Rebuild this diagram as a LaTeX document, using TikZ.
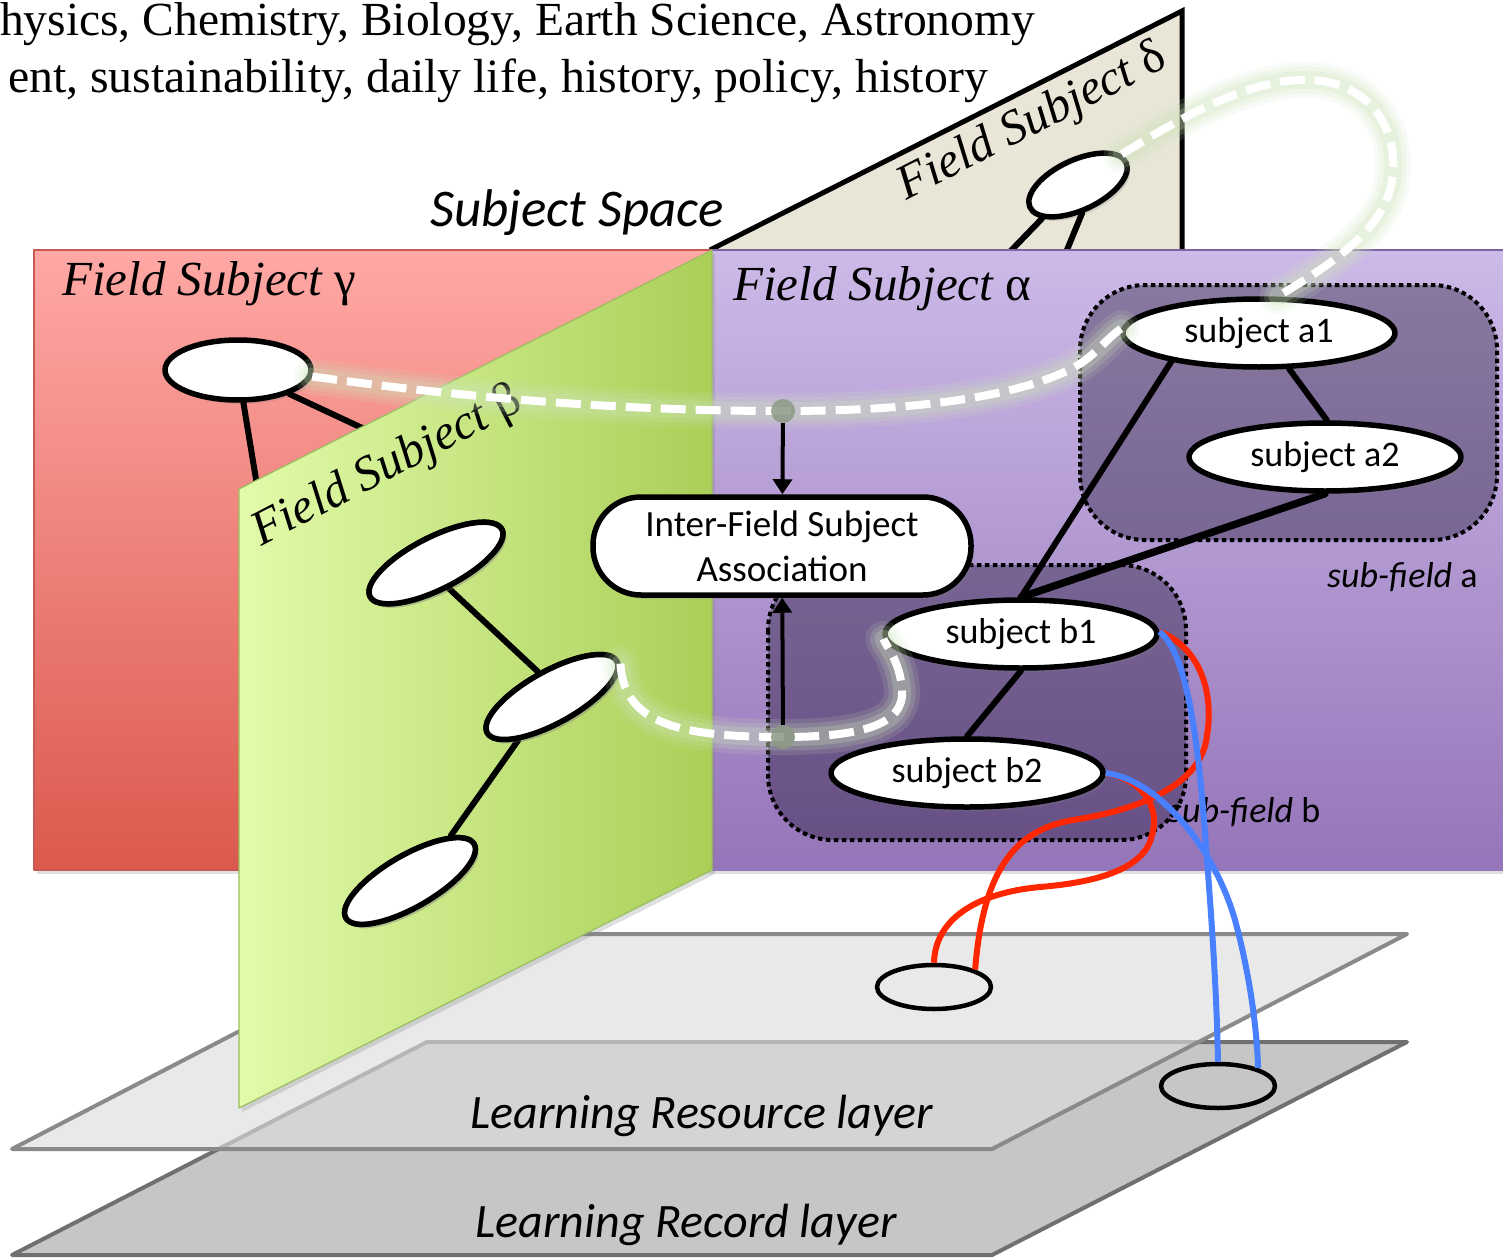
\documentclass[tikz,border=0pt]{standalone}
\usepackage{fontspec}
\setmainfont{Liberation Serif}
\newfontfamily\calibri{Carlito}
\usetikzlibrary{shapes.geometric,arrows.meta,shadows}

\definecolor{redTop}{RGB}{255,168,165}
\definecolor{redBot}{RGB}{219,89,77}
\definecolor{redEdge}{RGB}{200,90,85}
\definecolor{purTop}{RGB}{205,186,232}
\definecolor{purBot}{RGB}{149,117,185}
\definecolor{purEdge}{RGB}{128,100,162}
\definecolor{grnL}{RGB}{226,251,170}
\definecolor{grnR}{RGB}{170,207,88}
\definecolor{grnEdge}{RGB}{155,190,95}
\definecolor{deltaFill}{RGB}{233,230,216}
\definecolor{glowGreen}{RGB}{205,228,185}
\definecolor{linkRed}{RGB}{255,38,0}
\definecolor{linkBlue}{RGB}{72,128,255}
\definecolor{subDark}{RGB}{20,12,40}
\definecolor{dotGrey}{RGB}{140,152,132}
\definecolor{resFill}{RGB}{221,221,221}
\definecolor{resEdge}{RGB}{138,138,138}
\definecolor{recFill}{RGB}{198,198,198}
\definecolor{recEdge}{RGB}{112,112,112}

\begin{document}
\begin{tikzpicture}[x=1pt, y=-1pt, line join=round,
  softshadow/.style={drop shadow={opacity=.25, shadow xshift=3pt, shadow yshift=-4pt}},
  blank/.style={ellipse, draw=black, line width=5.5pt, fill=white, inner sep=0pt, softshadow},
  topic/.style={blank, minimum width=272pt, minimum height=68pt, font=\calibri\fontsize{36}{40}\selectfont},
  betanode/.style={blank, minimum width=148pt, minimum height=52pt},
  hole/.style={ellipse, draw=black, line width=4.5pt, inner sep=0pt, minimum width=114pt, minimum height=44pt},
  link/.style={line width=6pt, line cap=round},
  assoc/.style={line width=4pt, -{Triangle[length=15pt,width=19pt]}},
  subfield/.style={draw=black, line width=4pt, dash pattern=on 4.5pt off 3.5pt, fill=subDark, fill opacity=.36, rounded corners=65pt},
  fieldlabel/.style={font=\itshape\fontsize{49}{52}\selectfont, inner sep=0pt},
  glowlink/.style={draw=white, line width=8pt, dash pattern=on 25pt off 10pt,
    preaction={draw=glowGreen, line width=36pt, opacity=.14, line cap=round, solid},
    preaction={draw=glowGreen, line width=27pt, opacity=.18, line cap=round, solid},
    preaction={draw=glowGreen, line width=18pt, opacity=.25, line cap=round, solid}},
  redlink/.style={draw=linkRed, line width=6pt},
  bluelink/.style={draw=linkBlue, line width=6pt},
  hub/.style={circle, fill=dotGrey, opacity=.85, minimum size=24pt, inner sep=0pt}]

\useasboundingbox (0,0) rectangle (1503,1257);

% headline lists
\node[anchor=base west, inner sep=0pt, font=\fontsize{47.5}{50}\selectfont] (topics1) at (0,36)
  {hysics, Chemistry, Biology, Earth Science, Astronomy};
\node[anchor=base east, inner sep=0pt, font=\fontsize{47.8}{50}\selectfont] (topics2) at (988,93)
  {ent, sustainability, daily life, history, policy, history};

% learning layers
\path[fill=recFill, draw=recEdge, line width=4pt] (427,1042) -- (1407,1042) -- (992,1255) -- (12,1255) -- cycle;
\path[fill=resFill, fill opacity=.65, draw=resEdge, line width=4pt] (427,934) -- (1407,934) -- (992,1149) -- (12,1149) -- cycle;
\node[hole] (r1) at (934,987) {};
\node[hole] (r2) at (1218,1086) {};
\node[anchor=base, inner sep=0pt, font=\calibri\itshape\fontsize{48}{52}\selectfont] (lres) at (702,1128) {Learning Resource layer};
\node[anchor=base, inner sep=0pt, font=\calibri\itshape\fontsize{48}{52}\selectfont] (lrec) at (686,1237) {Learning Record layer};

% field subject delta
\path[fill=deltaFill] (710,250) -- (1182,11) -- (1182,252) -- cycle;
\draw[line width=5pt, line join=miter] (710,250) -- (1182,11) -- (1182,252);
\node[blank, rotate=25, minimum width=106pt, minimum height=50pt] (d1) at (1078,185) {};
\coordinate (dh1) at (1000,262);
\coordinate (dh2) at (1062,262);
\draw[link] (d1.-162) -- (dh1);
\draw[link] (d1.-107) -- (dh2);
\node[fieldlabel, anchor=base, rotate=27] (ldelta) at (1038,133) {Field Subject {\upshape δ}};

% field subject gamma
\path[softshadow, top color=redTop, bottom color=redBot, draw=redEdge, line width=1.2pt] (34,250) rectangle (712,870);
\node[blank, minimum width=146pt, minimum height=60pt] (g1) at (238,370) {};
\coordinate (gh1) at (266,540);
\coordinate (gh2) at (420,455);
\draw[link] (g1) -- (gh1);
\draw[link] (g1) -- (gh2);
\node[fieldlabel, anchor=base west] (lgamma) at (62,295) {Field Subject {\upshape γ}};

% field subject alpha
\path[softshadow, top color=purTop, bottom color=purBot] (712,250) rectangle (1510,870);
\draw[purEdge, line width=1.5pt] (712,250) -- (1510,250);
\node[fieldlabel, anchor=base west] (lalpha) at (733,300) {Field Subject {\upshape α}};

% field subject beta
\path[softshadow, left color=grnL, right color=grnR, draw=grnEdge, line width=1.2pt]
  (239,489) -- (712,250) -- (712,870) -- (239,1108) -- cycle;
\node[fieldlabel, anchor=base, rotate=27.5] (lbeta) at (393,478) {Field Subject {\upshape β}};

\node[anchor=base west, inner sep=0pt, font=\calibri\itshape\fontsize{53}{58}\selectfont] (space) at (430,227) {Subject Space};

% sub-fields of alpha
\path[subfield] (1080,285) rectangle (1497,540);
\path[subfield] (768,565) rectangle (1186,840);
\node[anchor=base west, inner sep=0pt, font=\calibri\fontsize{36}{40}\selectfont] (lsuba) at (1327,587) {\textit{sub-field} a};
\node[anchor=base west, inner sep=0pt, font=\calibri\fontsize{36}{40}\selectfont] (lsubb) at (1168,822) {\textit{sub-field} b};

\node[topic] (a1) at (1259,333) {subject a1};
\node[topic] (a2) at (1325,457) {subject a2};
\node[topic] (b1) at (1021,634) {subject b1};
\node[topic] (b2) at (967,773) {subject b2};
\draw[link] (a1.-50) -- (a2.87);
\draw[link] (a1.-162) -- (b1.north);
\draw[link, line width=7.5pt] (a2.south) -- (b1.north);
\draw[link] (b1.south) -- (b2.north);

\node[draw=black, line width=5.5pt, fill=white, rounded corners=48pt, minimum width=378pt, minimum height=98pt,
  align=center, inner sep=0pt, softshadow, font=\calibri\fontsize{37}{45}\selectfont] (inter) at (782,546)
  {Inter-Field Subject\\Association};

% beta subjects
\node[betanode, rotate=27] (e1) at (436,563) {};
\node[betanode, rotate=29] (e2) at (552,697) {};
\node[betanode, rotate=30] (e3) at (410,881) {};
\draw[link] (e1.south) -- (e2.north);
\draw[link] (e2.-157) -- (e3.18);
\node[betanode, rotate=27] at (e1) {};
\node[betanode, rotate=29] at (e2) {};
\node[betanode, rotate=30] at (e3) {};

% inter-field associations
\draw[glowlink] (g1.-5) .. controls (430,393) and (600,411) .. (783,411)
  .. controls (900,411) and (1010,400) .. (1073,368) .. controls (1095,356) and (1105,340) .. (a1.178);
\draw[glowlink] (d1.10) .. controls (1200,105) and (1260,78) .. (1310,80)
  .. controls (1370,82) and (1400,130) .. (1392,180) .. controls (1385,230) and (1330,265) .. (a1.63);
\draw[glowlink] (e2.-3) .. controls (624,720) and (670,737) .. (783,737)
  .. controls (860,737) and (905,725) .. (902,690) .. controls (900,660) and (885,645) .. (b1.182);

\node[hub] (dot1) at (783,411) {};
\node[hub] (dot2) at (783,737) {};
\draw[assoc] (dot1) -- (inter);
\draw[assoc] (dot2) -- (inter);

% links to learning resources and records
\draw[redlink] (b1.1) .. controls (1205,650) and (1213,700) .. (1207,735)
  .. controls (1203,780) and (1150,808) .. (1073,820) .. controls (1015,830) and (983,870) .. (r1.23);
\draw[redlink] (b2.east) .. controls (1145,780) and (1160,810) .. (1152,835)
  .. controls (1145,868) and (1100,882) .. (1040,887) .. controls (975,893) and (935,920) .. (r1.north);
\draw[bluelink] (b1.1) .. controls (1190,655) and (1200,760) .. (1207,860)
  .. controls (1214,950) and (1217,1010) .. (r2.north);
\draw[bluelink] (b2.east) .. controls (1160,780) and (1215,850) .. (1235,920)
  .. controls (1250,975) and (1257,1030) .. (r2.24);
\end{tikzpicture}
\end{document}
